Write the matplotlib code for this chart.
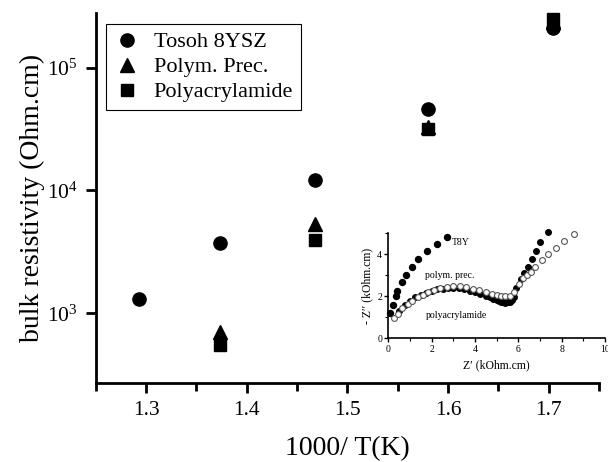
#!/usr/bin/env python3
"""
Bulk resistivity vs 1000/T with impedance-spectrum inset
"""

import matplotlib
matplotlib.use("Agg")
import matplotlib.pyplot as plt
from matplotlib.ticker import MultipleLocator, LogLocator, NullLocator

plt.rcParams.update({
    "font.family": ["Liberation Serif", "DejaVu Serif"],
    "mathtext.fontset": "custom",
    "mathtext.rm": "Liberation Serif",
    "mathtext.it": "Liberation Serif:italic",
    "axes.facecolor": "white",
    "figure.facecolor": "white",
})

# main data: 1000/T and bulk resistivity (Ohm.cm)
tosoh_x = [1.293, 1.374, 1.468, 1.580, 1.704]
tosoh_r = [1300, 3770, 12100, 46000, 210000]
polym_x = [1.374, 1.468, 1.580, 1.704]
polym_r = [700, 5300, 32900, 235000]
pacryl_x = [1.374, 1.468, 1.580, 1.704]
pacryl_r = [553, 3950, 31500, 248000]

# inset: Nyquist plot, Z' and -Z'' (kOhm.cm)
t8y_zr = [0.08, 0.23, 0.34, 0.42, 0.62, 0.80, 1.08, 1.38, 1.80, 2.26, 2.72]
t8y_zi = [1.19, 1.59, 2.03, 2.27, 2.70, 3.01, 3.38, 3.78, 4.17, 4.49, 4.84]

pp_zr = [0.26, 0.46, 0.65, 0.90, 1.10, 1.35, 1.60, 1.85, 2.10, 2.40, 2.70, 3.00,
         3.30, 3.60, 3.90, 4.20, 4.50, 4.80, 5.00, 5.20, 5.40, 5.60, 5.80, 6.05,
         6.20, 6.39, 6.58, 6.77, 7.08, 7.38, 7.74, 8.11, 8.57]
pp_zi = [0.95, 1.14, 1.45, 1.65, 1.80, 1.95, 2.05, 2.20, 2.30, 2.38, 2.45, 2.47,
         2.47, 2.43, 2.37, 2.30, 2.20, 2.10, 2.05, 2.02, 2.00, 2.03, 2.20, 2.59,
         2.86, 3.01, 3.17, 3.41, 3.73, 4.01, 4.28, 4.63, 4.95]

pa_zr = [0.50, 0.75, 1.00, 1.25, 1.50, 1.75, 2.00, 2.25, 2.50, 2.75, 3.00, 3.25,
         3.50, 3.75, 4.00, 4.25, 4.50, 4.70, 4.85, 5.00, 5.10, 5.20, 5.30, 5.40,
         5.50, 5.60, 5.70, 5.80, 5.89, 6.11, 6.28, 6.46, 6.62, 6.82, 7.00, 7.38]
pa_zi = [1.30, 1.60, 1.80, 1.95, 2.08, 2.18, 2.27, 2.33, 2.37, 2.40, 2.40, 2.38,
         2.33, 2.27, 2.20, 2.12, 2.03, 1.95, 1.88, 1.82, 1.78, 1.74, 1.71, 1.70,
         1.71, 1.74, 1.82, 1.95, 2.38, 2.81, 3.10, 3.41, 3.76, 4.16, 4.57, 5.08]


def create_chart():
    fig = plt.figure(figsize=(6.08, 4.62), dpi=100)
    ax = fig.add_axes([0.1574, 0.1716, 0.8276, 0.8003])

    ax.plot(tosoh_x, tosoh_r, 'o', color='black', ms=9.5, label='Tosoh 8YSZ', clip_on=False)
    ax.plot(polym_x, polym_r, '^', color='black', ms=10, label='Polym. Prec.', clip_on=False)
    ax.plot(pacryl_x, pacryl_r, 's', color='black', ms=8, label='Polyacrylamide', clip_on=False)

    ax.set_yscale('log')
    ax.set_xlim(1.25, 1.75)
    ax.set_ylim(273, 2.78e5)
    ax.xaxis.set_major_locator(MultipleLocator(0.1))
    ax.xaxis.set_minor_locator(MultipleLocator(0.05))
    ax.yaxis.set_major_locator(LogLocator(base=10, numticks=10))
    ax.yaxis.set_minor_locator(NullLocator())
    ax.set_xticks([1.3, 1.4, 1.5, 1.6, 1.7])

    for side in ['top', 'right']:
        ax.spines[side].set_visible(False)
    for side in ['left', 'bottom']:
        ax.spines[side].set_linewidth(2)
    ax.tick_params(which='major', direction='out', length=7, width=2, labelsize=15.5, pad=6)
    ax.tick_params(which='minor', direction='out', length=6, width=2)

    ax.set_xlabel('1000/ T(K)', fontsize=20, labelpad=12)
    ax.set_ylabel('bulk resistivity (Ohm.cm)', fontsize=20, labelpad=1)

    leg = ax.legend(loc='upper left', bbox_to_anchor=(0.174, 0.948), bbox_transform=fig.transFigure,
                    borderaxespad=0, fontsize=16, labelspacing=0.2, handletextpad=0.6,
                    fancybox=False, framealpha=1, edgecolor='black', borderpad=0.35,
                    handlelength=1.2)
    leg.get_frame().set_linewidth(0.8)

    # inset with impedance spectra
    ins = fig.add_axes([0.6387, 0.2677, 0.3564, 0.2273])
    ins.patch.set_alpha(0)
    ins.plot(t8y_zr, t8y_zi, 'o', color='black', ms=4.3, clip_on=False)
    ins.plot(pa_zr, pa_zi, 'o', color='black', ms=4, clip_on=False)
    ins.plot(pp_zr, pp_zi, 'o', mfc='white', mec='#555555', mew=0.8, ms=4.2, clip_on=False)
    ins.set_xlim(0, 10)
    ins.set_ylim(0, 5)
    ins.xaxis.set_major_locator(MultipleLocator(2))
    ins.xaxis.set_minor_locator(MultipleLocator(1))
    ins.yaxis.set_major_locator(MultipleLocator(2))
    ins.yaxis.set_minor_locator(MultipleLocator(1))
    for side in ['top', 'right']:
        ins.spines[side].set_visible(False)
    for side in ['left', 'bottom']:
        ins.spines[side].set_linewidth(1.2)
    ins.tick_params(which='major', direction='out', length=3, width=1, labelsize=7, pad=1.5)
    ins.tick_params(which='minor', direction='out', length=2, width=0.8)
    ins.set_xlabel('Z\u2032 (kOhm.cm)', fontsize=8.5, labelpad=4)
    ins.set_ylabel('- Z\u2032\u2032 (kOhm.cm)', fontsize=8.5, labelpad=3)

    ins.text(2.95, 4.55, 'T8Y', fontsize=7, va='center', ha='left')
    ins.text(1.7, 3.0, 'polym. prec.', fontsize=7, va='center', ha='left')
    ins.text(1.73, 1.1, 'polyacrylamide', fontsize=7, va='center', ha='left')

    return fig


def main():
    fig = create_chart()
    fig.savefig("out.png", dpi=100)
    plt.close(fig)


if __name__ == "__main__":
    main()
